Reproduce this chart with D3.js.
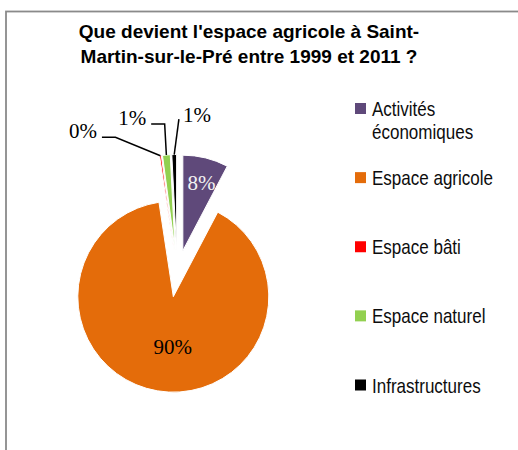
<!DOCTYPE html>
<html>
<head>
<meta charset="utf-8">
<script src="https://cdn.jsdelivr.net/npm/d3@7"></script>
<style>
  body { margin: 0; background: #fff; }
  svg { display: block; }
</style>
</head>
<body>
<div id="chart"></div>
<script>
// categories and their share of the land (percent)
const categories = ["Activités économiques", "Espace agricole", "Espace bâti", "Espace naturel", "Infrastructures"];
const legendLines = [["Activités", "économiques"], ["Espace agricole"], ["Espace bâti"], ["Espace naturel"], ["Infrastructures"]];
const values = [7.7, 89.9, 0.3, 1.3, 0.8];
const colors = ["#5f497a", "#e46c0a", "#ff0000", "#92d050", "#000000"];
const titleLines = ["Que devient l'espace agricole à Saint-", "Martin-sur-le-Pré entre 1999 et 2011 ?"];

document.addEventListener("DOMContentLoaded", function () {
    const width = 518;
    const height = 450;

    const svg = d3.select("#chart")
        .append("svg")
        .attr("width", width)
        .attr("height", height);

    // chart frame (right and bottom edges fall outside the picture)
    svg.append("rect")
        .attr("x", 6)
        .attr("y", 11.5)
        .attr("width", 530)
        .attr("height", 460)
        .attr("fill", "none")
        .attr("stroke", "#8a8a8a")
        .attr("stroke-width", 1.8);

    // title
    svg.append("text")
        .attr("text-anchor", "middle")
        .attr("font-family", "'Liberation Sans', Arial, sans-serif")
        .attr("font-weight", "bold")
        .attr("font-size", 19)
        .attr("fill", "#000")
        .selectAll("tspan")
        .data(titleLines)
        .enter()
        .append("tspan")
        .attr("x", 249)
        .attr("y", (d, i) => 38 + i * 25)
        .text(d => d);

    // pie
    const radius = 95.5;
    const explode = 23.5;
    const cx = 177.2, cy = 273.5;

    const pie = d3.pie().sort(null).value(d => d);
    const arcs = pie(values);
    const arc = d3.arc().innerRadius(0).outerRadius(radius);

    const shift = d => {
        const a = (d.startAngle + d.endAngle) / 2;
        return [explode * Math.sin(a), -explode * Math.cos(a)];
    };
    const outerPoint = d => {
        const a = (d.startAngle + d.endAngle) / 2;
        const s = shift(d);
        return [cx + s[0] + radius * Math.sin(a), cy + s[1] - radius * Math.cos(a)];
    };

    const g = svg.append("g").attr("transform", `translate(${cx}, ${cy})`);

    g.selectAll("path")
        .data(arcs)
        .enter()
        .append("path")
        .attr("transform", d => `translate(${shift(d)[0]}, ${shift(d)[1]})`)
        .attr("d", arc)
        .attr("fill", (d, i) => colors[i])
        .attr("stroke", "#fff")
        .attr("stroke-width", 1);

    const fmt = v => Math.round(v) + "%";
    const labelFont = "'Liberation Serif', 'Times New Roman', serif";

    // labels inside the two big slices
    const inside = [
        { i: 0, r: 70, dx: 2, dy: 7, fill: "#f2f2f2" },
        { i: 1, r: 51, dx: 8, dy: 7, fill: "#000" }
    ];
    inside.forEach(l => {
        const d = arcs[l.i];
        const a = (d.startAngle + d.endAngle) / 2;
        const s = shift(d);
        svg.append("text")
            .attr("x", cx + s[0] + l.r * Math.sin(a) + l.dx)
            .attr("y", cy + s[1] - l.r * Math.cos(a) + l.dy)
            .attr("text-anchor", "middle")
            .attr("font-family", labelFont)
            .attr("font-size", 21)
            .attr("fill", l.fill)
            .text(fmt(values[l.i]));
    });

    // labels with leader lines for the small slices
    const outside = [
        { i: 2, elbow: [-45, -18.5], tail: -13.5, anchor: "end", tx: -5, ty: 0.5 },
        { i: 3, elbow: [-1.7, -31], tail: -13.5, anchor: "end", tx: -5, ty: 1.5 },
        { i: 4, elbow: [4.7, -35.5], tail: 0, anchor: "start", tx: 4, ty: 3 }
    ];
    outside.forEach(l => {
        const p = outerPoint(arcs[l.i]);
        const e = [p[0] + l.elbow[0], p[1] + l.elbow[1]];
        const t = [e[0] + l.tail, e[1]];
        svg.append("path")
            .attr("d", d3.line()([p, e, t]))
            .attr("fill", "none")
            .attr("stroke", "#000")
            .attr("stroke-width", 1.5);
        svg.append("text")
            .attr("x", t[0] + l.tx)
            .attr("y", t[1] + l.ty)
            .attr("text-anchor", l.anchor)
            .attr("font-family", labelFont)
            .attr("font-size", 21)
            .attr("fill", "#000")
            .text(fmt(values[l.i]));
    });

    // legend
    const legendY = d3.scaleLinear().domain([0, categories.length - 1]).range([108.5, 385]);
    const legend = svg.append("g")
        .selectAll("g")
        .data(categories)
        .enter()
        .append("g")
        .attr("transform", (d, i) => `translate(355, ${legendY(i)})`);

    legend.append("rect")
        .attr("x", 0)
        .attr("y", -5.5)
        .attr("width", 11)
        .attr("height", 11)
        .attr("fill", (d, i) => colors[i]);

    // narrow sans: regular Liberation Sans squeezed horizontally
    const narrow = 0.83;
    legend.append("text")
        .attr("transform", `scale(${narrow}, 1)`)
        .attr("font-family", "'Liberation Sans', Arial, sans-serif")
        .attr("font-size", 20.5)
        .attr("fill", "#0d0d0d")
        .selectAll("tspan")
        .data((d, i) => legendLines[i])
        .enter()
        .append("tspan")
        .attr("x", 17 / narrow)
        .attr("y", (d, j) => 7.5 + j * 23.5)
        .text(d => d);
});
</script>
</body>
</html>
